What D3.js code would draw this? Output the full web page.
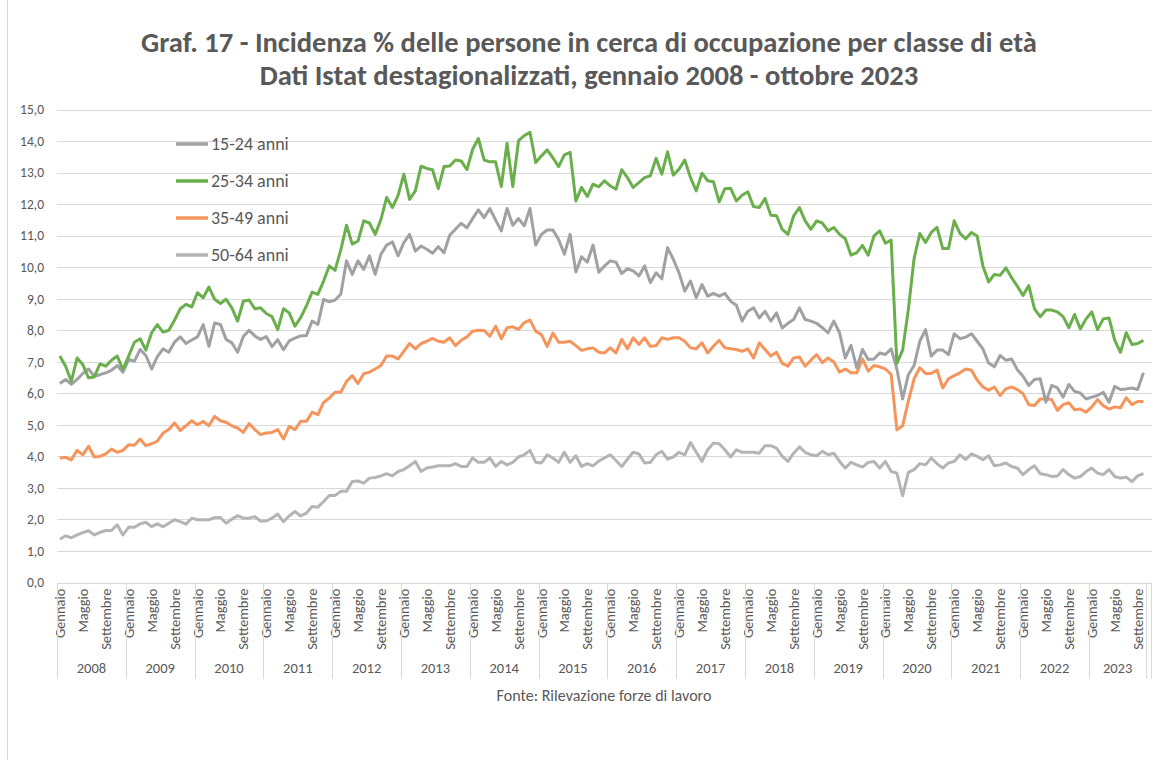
<!DOCTYPE html>
<html><head><meta charset="utf-8">
<script src="https://cdnjs.cloudflare.com/ajax/libs/d3/7.8.5/d3.min.js"></script>
<style>body{margin:0;background:#fff} svg{display:block}</style>
</head><body><svg id="c" width="1163" height="760"></svg>
<script>
const titleLines = ["Graf. 17 - Incidenza % delle persone in cerca di occupazione per classe di età",
                    "Dati Istat destagionalizzati, gennaio 2008 - ottobre 2023"];
const sourceText = "Fonte: Rilevazione forze di lavoro";
const monthNames = ["Gennaio","Febbraio","Marzo","Aprile","Maggio","Giugno","Luglio","Agosto","Settembre","Ottobre","Novembre","Dicembre"];
const shownMonths = ["Gennaio","Maggio","Settembre"];
const years = [2008,2009,2010,2011,2012,2013,2014,2015,2016,2017,2018,2019,2020,2021,2022,2023];
const monthsInYear = [12,12,12,12,12,12,12,12,12,12,12,12,12,12,12,10];
const yTicks = [0,1,2,3,4,5,6,7,8,9,10,11,12,13,14,15];
const seriesNames = ["15-24 anni","25-34 anni","35-49 anni","50-64 anni"];

const s1524 = [6.31,6.44,6.28,6.44,6.63,6.77,6.54,6.59,6.65,6.73,6.88,6.67,
7.07,7.02,7.39,7.2,6.77,7.16,7.41,7.3,7.62,7.79,7.58,7.69,
7.79,8.18,7.49,8.23,8.18,7.71,7.6,7.3,7.8,8.0,7.82,7.71,
7.8,7.48,7.7,7.38,7.66,7.75,7.82,7.83,8.29,8.18,8.98,8.9,
8.96,9.14,10.2,9.77,10.2,9.93,10.36,9.77,10.41,10.7,10.8,10.36,
10.78,11.04,10.51,10.67,10.57,10.44,10.65,10.46,11.01,11.2,11.39,11.25,
11.54,11.82,11.57,11.86,11.5,11.15,11.86,11.33,11.54,11.31,11.86,10.7,
11.04,11.18,11.18,10.88,10.41,11.04,9.85,10.33,10.16,10.7,9.84,10.04,
10.2,10.16,9.8,9.95,9.88,9.72,10.04,9.51,9.82,9.63,10.62,10.25,
9.82,9.24,9.56,9.03,9.45,9.08,9.17,9.08,9.17,8.92,8.79,8.29,
8.6,8.71,8.39,8.6,8.29,8.55,8.07,8.22,8.34,8.71,8.34,8.29,
8.22,8.08,7.92,8.29,7.92,7.12,7.52,6.81,7.39,7.07,7.09,7.28,
7.23,7.41,6.77,5.82,6.59,6.88,7.65,8.02,7.18,7.37,7.37,7.23,
7.89,7.73,7.78,7.89,7.65,7.41,6.96,6.84,7.2,7.05,7.09,6.75,
6.54,6.25,6.44,6.46,5.72,6.25,6.17,5.88,6.28,6.06,6.01,5.82,
5.88,5.93,6.03,5.72,6.22,6.12,6.14,6.17,6.12,6.65];

const s2534 = [7.18,6.86,6.38,7.12,6.91,6.49,6.52,6.93,6.86,7.05,7.18,6.75,
7.18,7.62,7.73,7.37,7.92,8.18,7.94,8.0,8.32,8.68,8.82,8.74,
9.19,9.03,9.37,8.98,8.85,8.98,8.71,8.29,8.92,8.96,8.68,8.71,
8.53,8.43,8.02,8.68,8.55,8.13,8.4,8.77,9.21,9.14,9.56,10.04,
9.9,10.55,11.33,10.73,10.83,11.47,11.4,11.04,11.51,12.21,11.89,12.28,
12.95,12.15,12.42,13.2,13.13,13.09,12.49,13.19,13.21,13.4,13.37,13.09,
13.74,14.08,13.4,13.34,13.34,12.56,13.93,12.56,14.01,14.17,14.28,13.32,
13.53,13.72,13.47,13.19,13.56,13.64,12.1,12.53,12.24,12.63,12.55,12.74,
12.58,12.47,13.09,12.84,12.53,12.68,12.84,12.9,13.45,12.95,13.66,12.92,
13.11,13.4,12.84,12.42,12.98,12.74,12.71,12.07,12.49,12.5,12.1,12.28,
12.39,11.92,11.89,12.18,11.65,11.63,11.2,11.04,11.63,11.89,11.47,11.2,
11.47,11.4,11.15,11.26,11.04,10.9,10.38,10.46,10.69,10.38,10.99,11.15,
10.76,10.86,6.95,7.37,8.66,10.27,11.07,10.78,11.1,11.26,10.59,10.59,
11.47,11.07,10.9,11.1,10.99,10.04,9.53,9.77,9.74,9.98,9.67,9.4,
9.1,9.42,8.68,8.43,8.64,8.64,8.58,8.43,8.08,8.5,8.04,8.36,
8.58,8.02,8.36,8.39,7.68,7.3,7.92,7.55,7.58,7.68];

const s3549 = [3.95,3.97,3.89,4.19,4.05,4.32,3.98,4.0,4.08,4.23,4.13,4.19,
4.37,4.35,4.55,4.34,4.4,4.48,4.74,4.85,5.06,4.82,4.97,5.13,
5.0,5.11,4.97,5.27,5.13,5.08,4.97,4.9,4.76,5.04,4.85,4.69,
4.74,4.76,4.85,4.55,4.95,4.85,5.11,5.11,5.4,5.32,5.71,5.85,
6.03,6.03,6.38,6.56,6.31,6.62,6.67,6.77,6.88,7.18,7.18,7.09,
7.33,7.58,7.41,7.58,7.65,7.74,7.65,7.62,7.76,7.51,7.68,7.79,
7.97,8.0,7.99,7.81,8.13,7.73,8.08,8.11,8.03,8.24,8.32,7.97,
7.86,7.49,7.91,7.62,7.62,7.65,7.51,7.36,7.41,7.44,7.3,7.28,
7.44,7.28,7.71,7.41,7.76,7.55,7.76,7.49,7.51,7.76,7.71,7.76,
7.76,7.65,7.44,7.41,7.6,7.28,7.49,7.68,7.44,7.41,7.39,7.33,
7.41,7.12,7.6,7.39,7.18,7.3,6.95,6.86,7.12,7.15,6.86,7.05,
7.23,6.97,7.12,6.99,6.67,6.77,6.65,6.65,7.09,6.7,6.88,6.84,
6.77,6.6,4.84,4.97,5.75,6.46,6.81,6.63,6.63,6.74,6.17,6.46,
6.56,6.65,6.77,6.73,6.42,6.2,6.1,6.2,5.93,6.14,6.2,6.12,
5.99,5.64,5.61,5.82,5.82,5.8,5.46,5.64,5.7,5.48,5.5,5.4,
5.57,5.8,5.61,5.5,5.57,5.54,5.86,5.64,5.74,5.74];

const s5064 = [1.37,1.48,1.42,1.51,1.58,1.64,1.51,1.59,1.65,1.65,1.83,1.51,
1.75,1.75,1.86,1.91,1.77,1.86,1.77,1.88,1.99,1.93,1.85,2.04,
1.99,1.99,1.99,2.06,2.06,1.88,2.01,2.12,2.04,2.04,2.09,1.95,
1.95,2.04,2.17,1.93,2.11,2.25,2.11,2.2,2.41,2.39,2.57,2.76,
2.76,2.89,2.89,3.2,3.22,3.15,3.31,3.33,3.38,3.45,3.38,3.52,
3.58,3.7,3.84,3.52,3.63,3.66,3.7,3.7,3.7,3.77,3.68,3.68,
3.95,3.81,3.81,3.95,3.68,3.84,3.73,3.81,3.98,4.05,4.19,3.81,
3.79,4.05,3.95,3.81,4.13,3.81,4.02,3.68,3.77,3.7,3.85,3.95,
4.05,3.87,3.68,3.91,4.13,4.08,3.79,3.81,4.05,4.16,3.91,3.98,
4.13,4.05,4.44,4.13,3.84,4.21,4.42,4.4,4.21,3.98,4.21,4.13,
4.13,4.13,4.1,4.34,4.34,4.26,4.0,3.84,4.1,4.3,4.13,4.05,
4.02,4.16,4.05,4.1,3.84,3.63,3.81,3.73,3.66,3.81,3.84,3.63,
3.84,3.52,3.47,2.75,3.49,3.58,3.77,3.73,3.95,3.77,3.63,3.79,
3.84,4.05,3.9,4.08,4.0,3.89,4.02,3.7,3.73,3.79,3.68,3.63,
3.42,3.58,3.7,3.45,3.42,3.36,3.38,3.58,3.42,3.31,3.36,3.52,
3.63,3.47,3.42,3.58,3.36,3.31,3.34,3.2,3.38,3.45];

const seriesColors = ["#a0a1a5","#6aaf4b","#f5955c","#b4b4b4"];
const seriesData = [s1524, s2534, s3549, s5064];

// categories: each month of each year, plus one trailing empty category
const cats = [];
years.forEach((yr, k) => {
  for (let m = 0; m < monthsInYear[k]; m++) cats.push({key: yr + "-" + m, year: yr, month: monthNames[m]});
});
cats.push({key: "empty", year: null, month: ""});

const svg = d3.select("#c");
const FONT = "Carlito, Lato, 'Open Sans', sans-serif";
const TXT = "#595959";

function fitText(el, targetW, baseSize) {
  const w = el.node().getComputedTextLength();
  el.attr("font-size", baseSize * targetW / w);
}

// chart border (left edge visible)
svg.append("line").attr("x1",7.5).attr("x2",7.5).attr("y1",0).attr("y2",760).attr("stroke","#d9d9d9");

const x = d3.scaleBand().domain(cats.map(d => d.key)).range([57, 1152]).padding(0);
const y = d3.scaleLinear().domain([0, 15]).range([582.5, 109.5]);

// title
const tg = svg.append("g");
const tl = [{t: titleLines[0], y: 52, w: 896}, {t: titleLines[1], y: 85, w: 659}];
tl.forEach(o => {
  const el = tg.append("text").attr("x", 589).attr("y", o.y).attr("text-anchor","middle")
    .attr("font-family", FONT).attr("font-weight","bold").attr("font-size", 24).attr("fill", TXT).text(o.t);
  fitText(el, o.w, 24);
});

// gridlines
svg.append("g").selectAll("line").data(yTicks).join("line")
  .attr("x1", 57).attr("x2", 1152).attr("y1", d => Math.round(y(d)) + 0.5).attr("y2", d => Math.round(y(d)) + 0.5)
  .attr("stroke", "#d9d9d9").attr("stroke-width", 1);

// y axis labels
const yAxis = d3.axisLeft(y).tickValues(yTicks).tickSize(0).tickPadding(0)
  .tickFormat(d => d3.format(".1f")(d).replace(".", ","));
const ya = svg.append("g").attr("transform", "translate(44,0)").call(yAxis);
ya.select(".domain").remove();
ya.selectAll("text").attr("font-family", FONT).attr("font-size", 13.5).attr("fill", TXT);

// x axis month labels
const xAxis = d3.axisBottom(x).tickSize(0).tickValues(cats.filter(d => shownMonths.includes(d.month)).map(d => d.key))
  .tickFormat(k => cats.find(c => c.key === k).month);
const xa = svg.append("g").attr("transform", "translate(0,582.5)").call(xAxis);
xa.select(".domain").remove();
xa.selectAll("text").attr("font-family", FONT).attr("font-size", 14.5).attr("fill", TXT)
  .attr("transform", "rotate(-90)").attr("text-anchor", "end").attr("x", -6).attr("y", 0).attr("dy", "0.35em");

// year group separators & labels
const bounds = [];
let idx = 0;
years.forEach((yr, k) => { bounds.push({i: idx, yr: yr, n: monthsInYear[k]}); idx += monthsInYear[k]; });
const sepIdx = bounds.map(b => b.i).concat([idx]);
svg.append("g").selectAll("line").data(sepIdx).join("line")
  .attr("x1", d => Math.round(x(cats[d].key)) + 0.5).attr("x2", d => Math.round(x(cats[d].key)) + 0.5)
  .attr("y1", 582.5).attr("y2", 679).attr("stroke", "#d9d9d9");
svg.append("line").attr("x1", 1151.5).attr("x2", 1151.5).attr("y1", 582.5).attr("y2", 679).attr("stroke", "#d9d9d9");
svg.append("g").selectAll("text").data(bounds).join("text")
  .attr("x", d => x(cats[d.i].key) + d.n * x.bandwidth() / 2).attr("y", 673)
  .attr("text-anchor", "middle").attr("font-family", FONT).attr("font-size", 14.5).attr("fill", TXT)
  .text(d => d.yr);

// series lines
const line = d3.line().x((d, i) => x(cats[i].key) + x.bandwidth() / 2).y(d => y(d));
const order = [3, 2, 0, 1];
svg.append("g").selectAll("path").data(order).join("path")
  .attr("d", k => line(seriesData[k])).attr("fill", "none")
  .attr("stroke", k => seriesColors[k]).attr("stroke-width", 3).attr("stroke-linejoin", "round");

// legend
const lg = svg.append("g");
const legY = [144, 181, 218, 255];
seriesNames.forEach((n, k) => {
  lg.append("line").attr("x1", 176).attr("x2", 208).attr("y1", legY[k]).attr("y2", legY[k])
    .attr("stroke", seriesColors[k]).attr("stroke-width", 3.5);
  lg.append("text").attr("x", 211).attr("y", legY[k]).attr("dy", "0.35em")
    .attr("font-family", FONT).attr("font-size", 18).attr("fill", TXT).text(n);
});

// source
const src = svg.append("text").attr("x", 604).attr("y", 701).attr("text-anchor", "middle")
  .attr("font-family", FONT).attr("font-size", 13).attr("fill", TXT).text(sourceText);
fitText(src, 215, 13);
</script>
</body></html>
